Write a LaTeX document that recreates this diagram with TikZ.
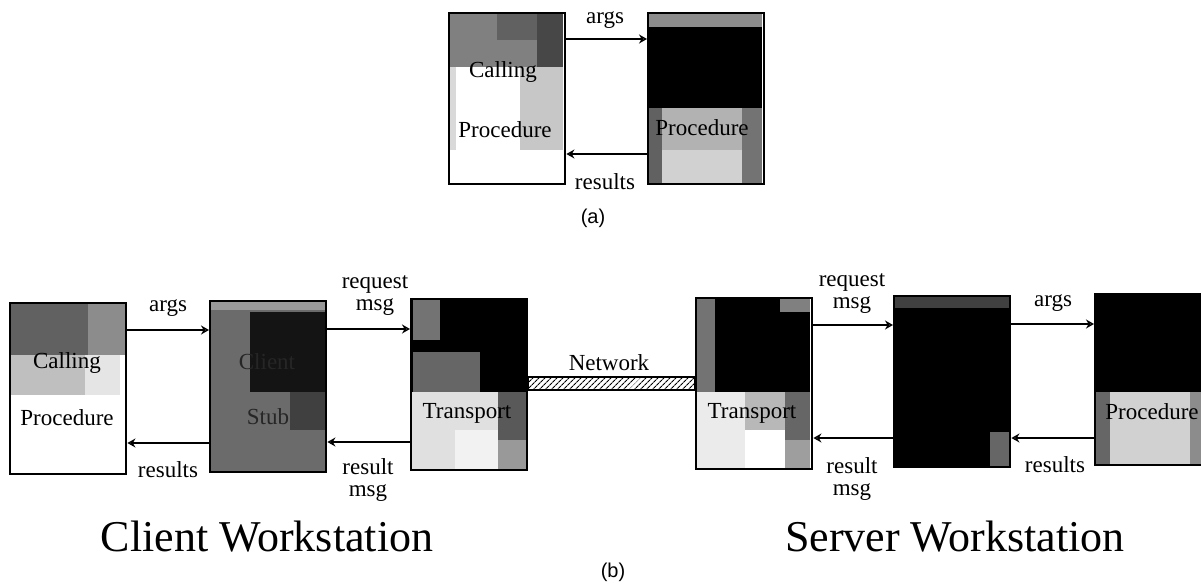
\documentclass[tikz,border=0pt]{standalone}
\usepackage{fontspec}
\setmainfont{Liberation Serif}
\newfontfamily\capfont{Liberation Sans}
\usetikzlibrary{arrows.meta,patterns.meta}

\begin{document}
\begin{tikzpicture}[x=1pt,y=-1pt,
  box/.style={draw=black,line width=2.4pt,minimum width=116pt,minimum height=171pt,
              inner sep=0pt,anchor=north west},
  lbl/.style={font=\fontsize{23}{22}\selectfont,inner sep=1pt,align=center},
  inlbl/.style={lbl,text=black},
  arr/.style={line width=1.4pt,-{Stealth[open,length=8pt,width=9pt,line width=1.4pt]}},
  big/.style={font=\fontsize{44}{46}\selectfont,inner sep=0pt},
  figcap/.style={font=\capfont\fontsize{20}{22}\selectfont,inner sep=0pt}]

\useasboundingbox (0,0) rectangle (1201,586);
\clip (0,0) rectangle (1201,586);

% ---------- (a) local procedure call: shaded regions ----------
% caller
\fill[black!50] (448,12) rectangle (537,67);
\fill[black!62] (497,12) rectangle (537,40);
\fill[black!72] (537,12) rectangle (563,67);
\fill[black!15] (448,67) rectangle (456,150);
\fill[black!22] (520,67) rectangle (563,150);
% callee
\fill[black!45] (647,12) rectangle (762,27);
\fill[black]    (647,27) rectangle (762,108);
\fill[black!62] (647,108) rectangle (662,183);
\fill[black!30] (662,108) rectangle (742,150);
\fill[black!18] (662,150) rectangle (742,183);
\fill[black!55] (742,108) rectangle (762,183);

\node[box] (A1) at (448,12) {};
\node[box] (A2) at (647,12) {};
\node[inlbl] (A1a) at (503,72)  {Calling};
\node[inlbl] (A1b) at (505,130) {Procedure};
\node[inlbl] (A2a) at (702,128) {Procedure};

\draw[arr] (A1.east |- 0,39)  -- (A2.west |- 0,39);
\draw[arr] (A2.west |- 0,154) -- (A1.east |- 0,154);
\node[lbl] (Aargs) at (605,20)  {args};
\node[lbl] (Ares)  at (605,182) {results};
\node[figcap] (capa)  at (593,218) {(a)};

% ---------- (b) remote procedure call: shaded regions ----------
% calling procedure
\fill[black!62] (9,302) rectangle (88,355);
\fill[black!45] (88,302) rectangle (127,355);
\fill[black!25] (9,355) rectangle (85,395);
\fill[black!10] (85,355) rectangle (120,395);
% client stub
\fill[black!58] (209,300) rectangle (326,471);
\fill[black!40] (209,300) rectangle (326,310);
\fill[black!92] (250,312) rectangle (326,392);
\fill[black!75] (290,392) rectangle (326,430);
% client transport
\fill[black]    (410,298) rectangle (526,392);
\fill[black!55] (413,300) rectangle (440,340);
\fill[black!60] (413,352) rectangle (480,392);
\fill[black!12] (410,392) rectangle (498,469);
\fill[black!5]  (455,430) rectangle (498,469);
\fill[black!65] (498,392) rectangle (526,440);
\fill[black!40] (498,440) rectangle (526,469);
% server transport
\fill[black]    (695,297) rectangle (810,392);
\fill[black!55] (695,297) rectangle (715,392);
\fill[black!50] (780,297) rectangle (810,312);
\fill[black!8]  (695,392) rectangle (745,468);
\fill[black!28] (745,392) rectangle (785,430);
\fill[black!60] (785,392) rectangle (810,440);
\fill[black!38] (785,440) rectangle (810,468);
% server stub
\fill[black]    (893,295) rectangle (1011,466);
\fill[black!75] (893,295) rectangle (1011,308);
\fill[black!60] (990,432) rectangle (1011,466);
% called procedure
\fill[black]    (1094,293) rectangle (1211,392);
\fill[black!60] (1094,392) rectangle (1110,464);
\fill[black!18] (1110,392) rectangle (1190,464);
\fill[black!45] (1190,392) rectangle (1211,464);

\node[box] (B1) at (9,302)    {};
\node[box] (B2) at (209,300)  {};
\node[box] (B3) at (410,298)  {};
\node[box] (B4) at (695,297)  {};
\node[box] (B5) at (893,295)  {};
\node[box] (B6) at (1094,293) {};

\node[inlbl] (B1a) at (67,363)  {Calling};
\node[inlbl] (B1b) at (67,418)  {Procedure};
\node[lbl,text=black!85] (B2a) at (267,362) {Client};
\node[lbl,text=black!85] (B2b) at (268,417) {Stub};
\node[inlbl] (B3a) at (467,413)  {Transport};
\node[inlbl] (B4a) at (752,413)  {Transport};
\node[inlbl] (B6a) at (1152,412) {Procedure};

% network link
\draw[line width=1.4pt,pattern={Lines[angle=45,distance=4pt,line width=1.1pt]}]
  (B3.east |- 0,377) rectangle (B4.west |- 0,390);
\node[lbl] (net) at (609,363) {Network};

% calls and returns
\draw[arr] (B1.east |- 0,330) -- (B2.west |- 0,330);
\draw[arr] (B2.east |- 0,329) -- (B3.west |- 0,329);
\draw[arr] (B3.west |- 0,442) -- (B2.east |- 0,442);
\draw[arr] (B2.west |- 0,443) -- (B1.east |- 0,443);
\draw[arr] (B4.east |- 0,325) -- (B5.west |- 0,325);
\draw[arr] (B5.east |- 0,324) -- (B6.west |- 0,324);
\draw[arr] (B6.west |- 0,438) -- (B5.east |- 0,438);
\draw[arr] (B5.west |- 0,438) -- (B4.east |- 0,438);

\node[lbl] (Bargs) at (168,308)  {args};
\node[lbl] (Bres)  at (168,470)  {results};
\node[lbl] (Creq)  at (375,296)  {request\\msg};
\node[lbl] (Cres)  at (368,480)  {result\\msg};
\node[lbl] (Sreq)  at (852,294)  {request\\msg};
\node[lbl] (Sres)  at (852,479)  {result\\msg};
\node[lbl] (Sargs) at (1053,303) {args};
\node[lbl] (Sresl) at (1055,465) {results};

\node[big] (client) at (267,537) {Client Workstation};
\node[big] (server) at (955,537) {Server Workstation};
\node[figcap] (capb)   at (613,572) {(b)};
\end{tikzpicture}
\end{document}
